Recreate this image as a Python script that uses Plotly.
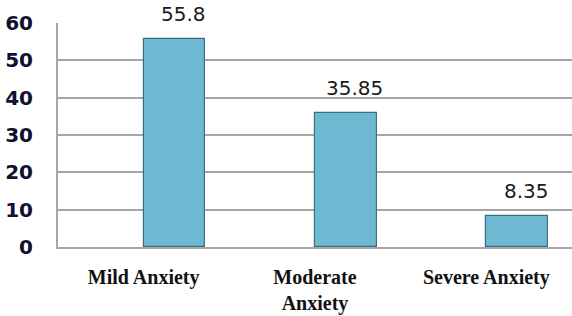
import plotly.graph_objects as go

categories = ["Mild Anxiety", "Moderate Anxiety", "Severe Anxiety"]
tick_labels = ["Mild Anxiety", "Moderate<br>Anxiety", "Severe Anxiety"]
values = [55.8, 35.85, 8.35]
value_labels = ["55.8", "35.85", "8.35"]
y_ticks = [0, 10, 20, 30, 40, 50, 60]

fig = go.Figure()
fig.add_trace(go.Bar(
    x=list(range(len(categories))),
    y=values,
    width=0.36,
    offset=0.0,
    marker=dict(color="#6db9d2", line=dict(color="#3b6f80", width=1.2)),
    hoverinfo="skip",
))

for i, (v, t) in enumerate(zip(values, value_labels)):
    fig.add_annotation(
        x=i + 0.18, y=v, text=t, showarrow=False,
        xanchor="center", yanchor="middle", yshift=25, xshift=9,
        font=dict(family="DejaVu Sans", size=20, color="#1a1a1a"),
    )

fig.update_layout(
    width=572, height=316,
    margin=dict(l=58, r=0, t=23, b=69),
    paper_bgcolor="white", plot_bgcolor="white",
    showlegend=False,
    bargap=0,
)
fig.update_xaxes(
    range=[-0.5, 2.5],
    tickvals=list(range(len(categories))),
    ticktext=tick_labels,
    tickfont=dict(family="Liberation Serif", size=20, color="#111111", weight="bold"),
    ticklabelstandoff=11,
    automargin=False,
    showgrid=False, zeroline=False,
    showline=True, linecolor="#a6a6a6", linewidth=2,
    ticks="",
)
fig.update_yaxes(
    range=[0, 60],
    tickvals=y_ticks,
    tickfont=dict(family="DejaVu Sans", size=20, color="#101030", weight="bold"),
    ticklabelstandoff=19,
    automargin=False,
    showgrid=True, gridcolor="#a6a6a6", gridwidth=2,
    zeroline=False,
    showline=True, linecolor="#a6a6a6", linewidth=2,
    ticks="",
)
fig.write_html(
    "out.html",
    config={"displayModeBar": False},
    post_script="document.body.style.margin='0';document.body.style.padding='0';",
)
